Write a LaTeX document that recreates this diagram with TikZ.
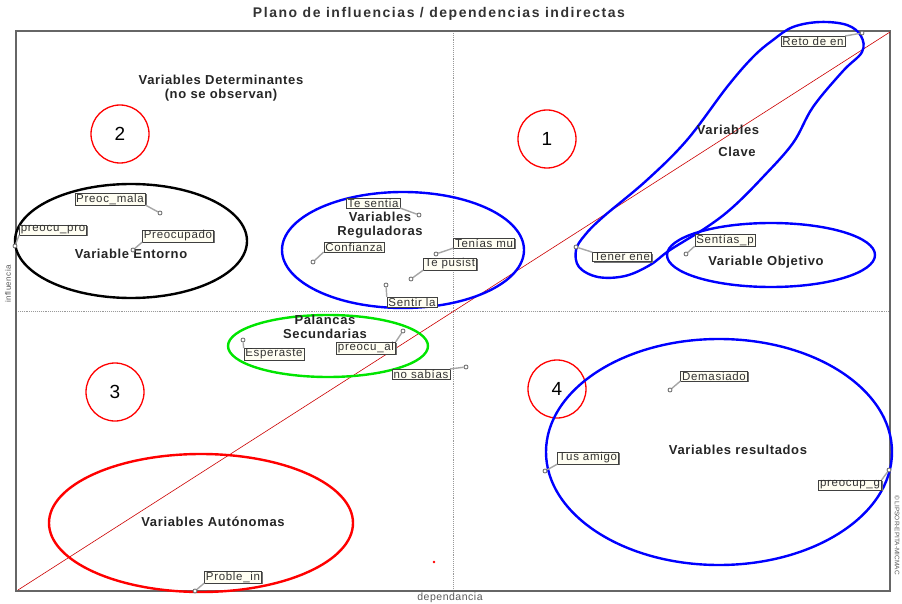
\documentclass[tikz,border=0pt]{standalone}
\usepackage{fontspec}
\setmainfont{Liberation Sans}
\newfontfamily\tagsans[LetterSpace=6]{Liberation Sans}
\newfontfamily\capsans[LetterSpace=5]{Liberation Sans}
\newfontfamily\titlesans[LetterSpace=11]{Liberation Sans}
\usetikzlibrary{shadows}
\begin{document}
\begin{tikzpicture}[x=1pt,y=-1pt,
  tag/.style={draw=black!75, fill=yellow!5, inner xsep=1.5pt, inner ysep=0.6pt,
    font=\tagsans\fontsize{11.5}{12}\selectfont, text=black!80,
    drop shadow={shadow xshift=1.3pt, shadow yshift=-1.3pt, fill=black!55, opacity=1}},
  pin/.style={circle, draw=black!60, fill=white, line width=0.8pt, inner sep=0pt, minimum size=4pt},
  pinline/.style={draw=black!35, line width=1.4pt},
  lbl/.style={font=\capsans\bfseries\fontsize{13}{13.5}\selectfont, text=black!85, align=center},
  num/.style={circle, draw=red, line width=1.3pt, minimum size=58pt, inner sep=0pt,
    font=\fontsize{19}{20}\selectfont},
  zone/.style={line width=2.4pt},
  guide/.style={draw=black!40, densely dotted, line width=0.9pt}
]
\useasboundingbox (0,0) rectangle (902,604);
\fill[white] (0,0) rectangle (902,604);

% title and axis captions
\node[font=\titlesans\bfseries\fontsize{14}{15}\selectfont, text=black!80] (title) at (439,14) {Plano de influencias / dependencias indirectas};
\node[font=\capsans\fontsize{10.5}{11}\selectfont, text=black!65] (xlab) at (450,598) {dependancia};
\node[font=\capsans\fontsize{8}{9}\selectfont, text=black!65, rotate=90] (ylab) at (8,284) {influencia};
\node[font=\fontsize{6.5}{7}\selectfont, text=black!65, rotate=-90] (copy) at (897,535) {© LIPSOR-EPITA-MICMAC};

% frame, quadrant guides and diagonal
\coordinate (tl) at (16,31);
\coordinate (br) at (890,591);
\draw[guide] (453,31) -- (453,591);
\draw[guide] (16,311) -- (890,311);
\draw[draw=black!60, line width=1.3pt] (tl) rectangle (br);
\coordinate (d0) at (18,590);
\coordinate (d1) at (890,32);
\draw[red!80!black, line width=0.6pt] (d0) -- (d1);
\fill[red] (434,562) circle (1.3pt);

% quadrant numbers
\node[num] (n2) at (120,134) {2};
\node[num] (n1) at (547,139) {1};
\node[num] (n3) at (115,392) {3};
\node[num] (n4) at (557,389) {4};

% grouping outlines
\draw[zone, black] (131,241) ellipse [x radius=116, y radius=57];
\draw[zone, blue] (403,250) ellipse [x radius=121, y radius=58];
\draw[zone, green!90!black] (328,346) ellipse [x radius=100, y radius=31];
\draw[zone, blue] (771,255) ellipse [x radius=104, y radius=32];
\draw[zone, blue] (719,452) ellipse [x radius=173, y radius=113];
\draw[zone, red] (201,523) ellipse [x radius=152, y radius=69];
\draw[zone, blue] plot[smooth cycle, tension=0.6] coordinates {
  (773,40) (793,27) (820,22) (847,25) (861,36) (862,52) (843,71)
  (813,107) (793,143) (763,177) (733,207) (707,227) (670,250) (650,265)
  (625,276) (598,277) (579,267) (576,250) (585,235) (603,217) (647,180)
  (687,140) (727,87) (753,57)};

% group captions
\node[lbl] (det) at (221,88) {Variables Determinantes\\(no se observan)};
\node[lbl] (ent) at (131,254) {Variable Entorno};
\node[lbl] (reg) at (380,225) {Variables\\Reguladoras};
\node[lbl] (cl1) at (728,130) {Variables};
\node[lbl] (cl2) at (737,152) {Clave};
\node[lbl] (obj) at (766,262) {Variable Objetivo};
\node[lbl, inner sep=0pt] (pal) at (325,327) {Palancas\\Secundarias};
\node[lbl] (res) at (738,450) {Variables resultados};
\node[lbl] (aut) at (213,522) {Variables Autónomas};

% variable tags with their points
\node[tag] (t1) at (813,41) {Reto de en};
\node[pin] (p1) at (862,33) {};
\draw[pinline] (t1.north east) -- (p1);

\node[tag] (t2) at (110,199) {Preoc\_mala};
\node[pin] (p2) at (160,213) {};
\draw[pinline] (t2.south east) -- (p2);

\node[tag] (t3) at (53,230) {preocu\_pro};
\node[pin] (p3) at (15,246) {};
\draw[pinline] (t3.south west) -- (p3);

\node[tag] (t4) at (178,236) {Preocupado};
\node[pin] (p4) at (133,250) {};
\draw[pinline] (t4.south west) -- (p4);

\node[tag] (t5) at (373,203) {Te sentia};
\node[pin] (p5) at (419,215) {};
\draw[pinline] (t5.south east) -- (p5);

\node[tag] (t6) at (354,247) {Confianza};
\node[pin] (p6) at (313,262) {};
\draw[pinline] (t6.south west) -- (p6);

\node[tag] (t7) at (484,243) {Tenías mu};
\node[pin] (p7) at (436,254) {};
\draw[pinline] (t7.south west) -- (p7);

\node[tag] (t8) at (450,264) {Te pusist};
\node[pin] (p8) at (411,279) {};
\draw[pinline] (t8.south west) -- (p8);

\node[tag] (t9) at (412,302) {Sentir la};
\node[pin] (p9) at (386,285) {};
\draw[pinline] (t9.north west) -- (p9);

\node[tag] (t10) at (622,257) {Tener ene};
\node[pin] (p10) at (576,247) {};
\draw[pinline] (t10.north west) -- (p10);

\node[tag] (t11) at (725,240) {Sentías\_p};
\node[pin] (p11) at (686,254) {};
\draw[pinline] (t11.south west) -- (p11);

\node[tag] (t12) at (274,354) {Esperaste};
\node[pin] (p12) at (243,340) {};
\draw[pinline] (t12.north west) -- (p12);

\node[tag] (t13) at (366,348) {preocu\_al};
\node[pin] (p13) at (403,331) {};
\draw[pinline] (t13.north east) -- (p13);

\node[tag] (t14) at (421,374) {no sabías};
\node[pin] (p14) at (466,367) {};
\draw[pinline] (t14.north east) -- (p14);

\node[tag] (t15) at (714,376) {Demasiado};
\node[pin] (p15) at (670,390) {};
\draw[pinline] (t15.south west) -- (p15);

\node[tag] (t16) at (588,458) {Tus amigo};
\node[pin] (p16) at (545,471) {};
\draw[pinline] (t16.south west) -- (p16);

\node[tag] (t17) at (850,485) {preocup\_g};
\node[pin] (p17) at (889,470) {};
\draw[pinline] (t17.north east) -- (p17);

\node[tag] (t18) at (233,577) {Proble\_in};
\node[pin] (p18) at (195,591) {};
\draw[pinline] (t18.south west) -- (p18);
\end{tikzpicture}
\end{document}
